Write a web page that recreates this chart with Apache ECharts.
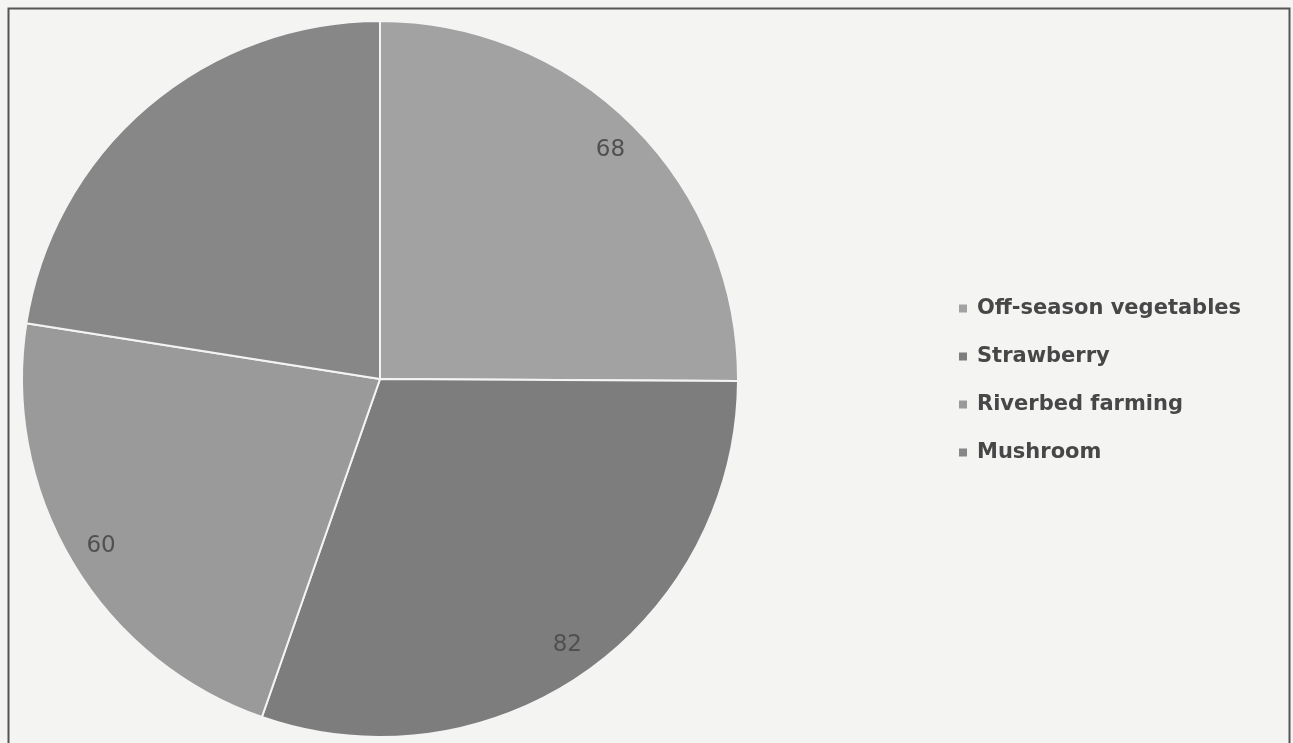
<!DOCTYPE html>
<html>
<head>
<meta charset="utf-8">
<script src="https://cdn.jsdelivr.net/npm/echarts@6/dist/echarts.min.js"></script>
<style>
html,body{margin:0;padding:0;background:#f4f4f3;}
#c{width:1293px;height:743px;}
</style>
</head>
<body>
<div id="c"></div>
<script>
const categories = ['Off-season vegetables', 'Strawberry', 'Riverbed farming', 'Mushroom'];
const values = [68, 82, 60, 61];
const showLabel = [true, true, true, false];
const colors = ['#a2a2a2', '#7d7d7d', '#9a9a9a', '#878787'];

const chart = echarts.init(document.getElementById('c'));
const mainData = categories.map((n, i) => ({ name: n, value: values[i], itemStyle: { color: colors[i] } }));
const labelData = categories.map((n, i) => ({ name: n, value: values[i], label: { show: showLabel[i] } }));

chart.setOption({
  backgroundColor: '#f4f4f3',
  animation: false,
  graphic: [{
    type: 'rect', shape: { x: 8.5, y: 8.5, width: 1281, height: 760 },
    style: { fill: 'none', stroke: '#555', lineWidth: 2 }, silent: true
  }],
  legend: {
    orient: 'vertical', left: 952, top: 293,
    icon: 'rect', itemWidth: 10, itemHeight: 10, itemGap: 27,
    data: categories,
    textStyle: { fontFamily: 'DejaVu Sans', fontWeight: 'bold', fontSize: 21, color: '#474747', padding: [0, 0, 0, 4] }
  },
  series: [
    {
      type: 'pie', center: [380, 379], radius: [0, 358], startAngle: 90, clockwise: true,
      label: { show: false }, labelLine: { show: false },
      itemStyle: { borderColor: '#f4f4f4', borderWidth: 2 },
      data: mainData, silent: true
    },
    {
      type: 'pie', center: [380, 379], radius: [286, 358], startAngle: 90, clockwise: true,
      legendHoverLink: false, silent: true,
      itemStyle: { color: 'rgba(0,0,0,0)', borderWidth: 0 },
      label: { show: true, position: 'inside', formatter: '{c}', fontFamily: 'DejaVu Sans', fontSize: 23, color: '#505050' },
      labelLine: { show: false },
      data: labelData
    }
  ]
});
</script>
</body>
</html>
